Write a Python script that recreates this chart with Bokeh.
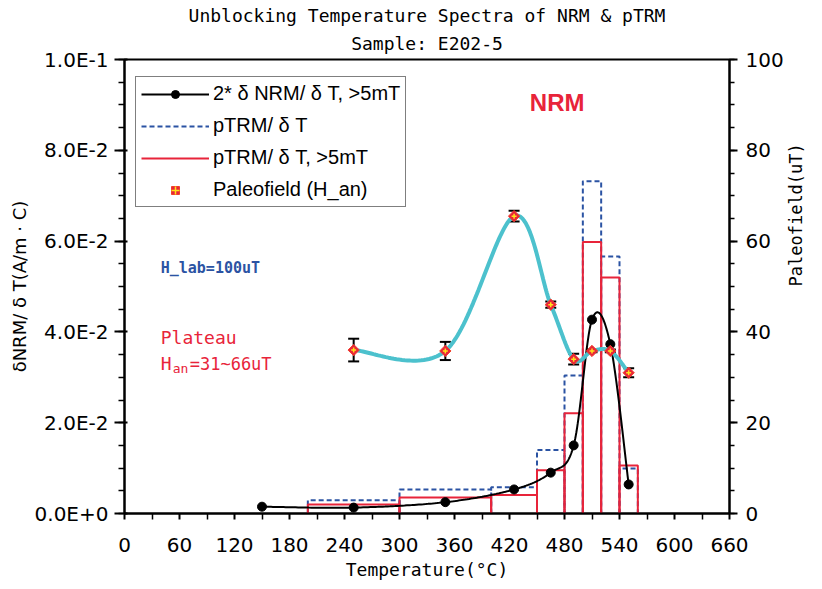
import numpy as np
from bokeh.plotting import figure
from bokeh.models import (Range1d, LinearAxis, FixedTicker, CustomJSTickFormatter, Title,
                          Label, Legend, LegendItem, Whisker, TeeHead, ColumnDataSource)
from bokeh.embed import file_html
from bokeh.resources import INLINE

# 2 * dNRM/dT above 5 mT at each demagnetization step
nrm_temp = [150, 250, 350, 425, 465, 490, 510, 530, 550]
nrm_rate = [0.0015, 0.0013, 0.0025, 0.0053, 0.0090, 0.0150, 0.0427, 0.0373, 0.0064]

# pTRM gained over each temperature interval
bin_left = [200, 300, 400, 450, 480, 500, 520, 540]
bin_right = [300, 400, 450, 480, 500, 520, 540, 560]
ptrm_all = [0.0029, 0.0053, 0.0058, 0.0140, 0.0304, 0.0732, 0.0566, 0.0099]
ptrm_5mt = [0.0020, 0.0035, 0.0041, 0.0095, 0.0221, 0.0598, 0.0520, 0.0106]

# paleofield estimates (uT) and their errors
pf_temp = [250, 350, 425, 465, 490, 510, 530, 550]
pf_value = [36.0, 35.8, 65.5, 46.0, 34.0, 35.8, 35.8, 31.0]
pf_error = [2.5, 2.0, 1.2, 0.7, 1.2, 0.3, 0.3, 1.0]

x_ticks = list(range(0, 661, 60))
x_minor = list(range(30, 661, 60))
left_ticks = [0.0, 0.02, 0.04, 0.06, 0.08, 0.1]
left_minor = [i * 0.005 for i in range(21)]
right_ticks = [0, 20, 40, 60, 80, 100]
right_minor = list(range(0, 101, 5))

RED = "#e8243a"
BLUE = "#2b53a3"
CYAN = "#4cc1cd"
MONO = "DejaVu Sans Mono"
SANS = "DejaVu Sans"

W, H = 822, 589
ML, MR, MT, MB = 124, 93, 59, 76
# pixels per data unit, used so that the smoothed curves bend in screen space
SX = (W - ML - MR) / 660.0
SY_L = (H - MT - MB) / 0.1
SY_R = (H - MT - MB) / 100.0


def smooth(xs, ys, sx, sy, n=40):
    """Bezier smoothing through every point, tangents from neighbouring points."""
    P = np.column_stack([np.asarray(xs, float) * sx, np.asarray(ys, float) * sy])
    ext = np.vstack([P[0], P, P[-1]])
    t = np.linspace(0.0, 1.0, n)[1:, None]
    parts = [P[:1]]
    for i in range(len(P) - 1):
        p0, p1, p2, p3 = ext[i], ext[i + 1], ext[i + 2], ext[i + 3]
        c1 = p1 + (p2 - p0) / 6.0
        c2 = p2 - (p3 - p1) / 6.0
        parts.append((1 - t) ** 3 * p1 + 3 * (1 - t) ** 2 * t * c1
                     + 3 * (1 - t) * t ** 2 * c2 + t ** 3 * p2)
    Q = np.vstack(parts)
    return Q[:, 0] / sx, Q[:, 1] / sy


def bar_outlines(lefts, rights, tops):
    """Closed-at-the-base outline of each interval bar."""
    xs = [[l, l, r, r] for l, r in zip(lefts, rights)]
    ys = [[0, t, t, 0] for t in tops]
    return xs, ys


p = figure(width=W, height=H, x_range=Range1d(0, 660), y_range=Range1d(0, 0.1),
           output_backend="svg", toolbar_location=None,
           min_border_left=ML, min_border_right=MR, min_border_top=MT, min_border_bottom=MB)
p.extra_y_ranges = {"field": Range1d(0, 100)}
p.xgrid.visible = False
p.ygrid.visible = False
p.outline_line_color = "black"
p.outline_line_width = 2
p.background_fill_color = "white"
p.border_fill_color = "white"

# two-line heading; the one added last sits on top
p.add_layout(Title(text="Sample: E202-5", align="center", text_font=MONO,
                   text_font_size="18px", text_font_style="normal", text_color="black",
                   standoff=11), "above")
p.add_layout(Title(text="Unblocking Temperature Spectra of NRM & pTRM", align="center",
                   text_font=MONO, text_font_size="18px", text_font_style="normal",
                   text_color="black", standoff=0), "above")

# bottom axis
xa = p.xaxis[0]
xa.ticker = FixedTicker(ticks=x_ticks, minor_ticks=x_minor)
xa.axis_label = "Temperature(°C)"
xa.axis_label_text_font = MONO
xa.axis_label_text_font_size = "18px"
xa.axis_label_standoff = 4
xa.major_label_text_font_size = "20px"
xa.major_label_standoff = 18

# left axis
ya = p.yaxis[0]
ya.ticker = FixedTicker(ticks=left_ticks, minor_ticks=left_minor)
ya.formatter = CustomJSTickFormatter(code="return tick.toExponential(1).toUpperCase();")
ya.axis_label = "δNRM/ δ T(A/m · C)"
ya.axis_label_text_font = SANS
ya.axis_label_text_font_size = "18px"
ya.axis_label_standoff = 2
ya.major_label_text_font_size = "20px"
ya.major_label_standoff = 6

# right axis for the paleofield, its title reading upwards
ra = LinearAxis(y_range_name="field", ticker=FixedTicker(ticks=right_ticks, minor_ticks=right_minor))
ra.axis_label = "Paleofield(uT)"
ra.axis_label_orientation = np.pi / 2
ra.axis_label_text_font = MONO
ra.axis_label_text_font_size = "17px"
ra.axis_label_standoff = 9
ra.major_label_text_font_size = "20px"
ra.major_label_standoff = 8
p.add_layout(ra, "right")

for ax, mout, mi, nout in ((xa, 6, 0, 6), (ya, 10, 3, 6), (ra, 8, 0, 5)):
    ax.axis_line_width = 2
    ax.axis_line_color = "black"
    ax.major_tick_line_width = 2
    ax.minor_tick_line_width = 1.5
    ax.major_tick_out = mout
    ax.major_tick_in = mi
    ax.minor_tick_out = nout
    ax.minor_tick_in = 0
    ax.major_label_text_font = SANS
    ax.major_label_text_color = "black"
    ax.axis_label_text_color = "black"
    ax.axis_label_text_font_style = "normal"

# pTRM interval bars, drawn as outlines
bx_all, by_all = bar_outlines(bin_left, bin_right, ptrm_all)
bx_hi, by_hi = bar_outlines(bin_left, bin_right, ptrm_5mt)
r_blue = p.multi_line(bx_all, by_all, line_color=BLUE, line_width=2, line_dash="5 3")
r_red = p.multi_line(bx_hi, by_hi, line_color=RED, line_width=2)

# NRM loss rate
nx, ny = smooth(nrm_temp, nrm_rate, SX, SY_L)
r_nrm_line = p.line(nx, ny, line_color="black", line_width=2)
r_nrm_pts = p.scatter(nrm_temp, nrm_rate, marker="circle", size=9,
                      fill_color="black", line_color="black")

# paleofield curve, error bars and points
fx, fy = smooth(pf_temp, pf_value, SX, SY_R)
p.line(fx, fy, line_color=CYAN, line_width=4, y_range_name="field")
err = ColumnDataSource(dict(
    base=pf_temp,
    lower=[v - e for v, e in zip(pf_value, pf_error)],
    upper=[v + e for v, e in zip(pf_value, pf_error)],
))
p.add_layout(Whisker(source=err, base="base", lower="lower", upper="upper", dimension="height",
                     y_range_name="field", line_color="black", line_width=2,
                     upper_head=TeeHead(size=11, line_width=2, line_color="black"),
                     lower_head=TeeHead(size=11, line_width=2, line_color="black")))
r_pf = p.scatter(pf_temp, pf_value, marker="square", angle=np.pi / 4, size=8,
                 fill_color=RED, line_color="#f0402a", line_width=1, y_range_name="field")
r_pf_c = p.scatter(pf_temp, pf_value, marker="cross", size=5, line_color="#ffe21a",
                   line_width=1.5, y_range_name="field")

legend = Legend(items=[
    LegendItem(label="2* δ NRM/ δ T, >5mT", renderers=[r_nrm_line, r_nrm_pts]),
    LegendItem(label="pTRM/ δ T", renderers=[r_blue]),
    LegendItem(label="pTRM/ δ T, >5mT", renderers=[r_red]),
    LegendItem(label="Paleofield (H_an)", renderers=[r_pf, r_pf_c]),
], location=(11, 306))
legend.label_text_font = "Liberation Sans"
legend.label_text_font_size = "20px"
legend.label_text_color = "black"
legend.glyph_width = 68
legend.glyph_height = 20
legend.label_height = 20
legend.label_standoff = 4
legend.spacing = 9
legend.padding = 5
legend.border_line_color = "black"
legend.border_line_width = 1.5
legend.background_fill_alpha = 1
p.add_layout(legend, "center")

# annotations inside the frame
p.add_layout(Label(x=472, y=0.0905, text="NRM", text_align="center", text_baseline="middle",
                   text_font="Liberation Sans", text_font_style="bold",
                   text_font_size="24px", text_color=RED))
p.add_layout(Label(x=39.5, y=0.054, text="H_lab=100uT", text_baseline="middle",
                   text_font=MONO, text_font_style="bold", text_font_size="15px", text_color=BLUE))
p.add_layout(Label(x=39.5, y=0.0388, text="Plateau", text_baseline="middle",
                   text_font=MONO, text_font_size="18px", text_color=RED))
p.add_layout(Label(x=39.5, y=0.0330, text="H", text_baseline="middle",
                   text_font=MONO, text_font_size="18px", text_color=RED))
p.add_layout(Label(x=39.5, y=0.0330, x_offset=12, y_offset=-5, text="an", text_baseline="middle",
                   text_font=MONO, text_font_size="13px", text_color=RED))
p.add_layout(Label(x=39.5, y=0.0330, x_offset=29, text="=31~66uT", text_baseline="middle",
                   text_font=MONO, text_font_size="17px", text_color=RED))

open("out.html", "w").write(file_html(p, INLINE))
